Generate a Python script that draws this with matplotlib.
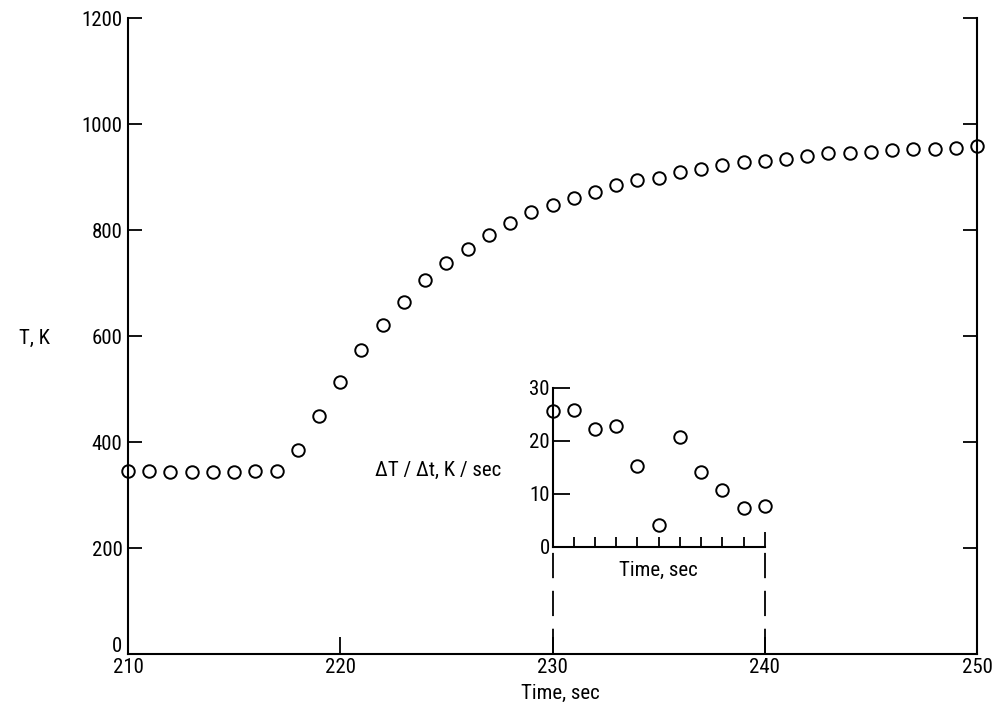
import matplotlib
matplotlib.use("Agg")
import matplotlib.pyplot as plt
from matplotlib import font_manager as fm
from matplotlib.ticker import FixedLocator, NullFormatter
from matplotlib.transforms import ScaledTranslation

# ---------------- data ----------------
time_s = list(range(210, 251))
temp_K = [345, 345, 343, 344, 344, 344, 345, 345, 384, 450,
          514, 573, 621, 664, 705, 737, 764, 790, 814, 834,
          848, 861, 872, 884, 895, 898, 909, 916, 923, 928,
          931, 934, 940, 946, 946, 948, 951, 953, 953, 954, 958]

inset_time = list(range(230, 241))
rate_Ks = [25.6, 25.8, 22.3, 22.8, 15.2, 4.2, 20.8, 14.1, 10.8, 7.3, 7.7]

main_xticks = [210, 220, 230, 240, 250]
main_yticks = [0, 200, 400, 600, 800, 1000, 1200]
inset_yticks = [0, 10, 20, 30]
inset_minor_xticks = list(range(231, 240))
inset_major_xticks = [240]
inset_range = [230, 240]
inset_base_T = 202

# ---------------- fonts ----------------
names = {f.name for f in fm.fontManager.ttflist}
preferred = ["Liberation Sans Narrow", "Roboto Condensed", "Open Sans Condensed",
             "Noto Sans Condensed", "DejaVu Sans Condensed"]
chosen = [n for n in preferred if n in names]
if chosen:
    plt.rcParams["font.family"] = [chosen[0], "DejaVu Sans"]
else:
    plt.rcParams["font.family"] = ["DejaVu Sans"]
    plt.rcParams["font.stretch"] = "condensed"

FS = 15
W, H = 1002, 719
fig = plt.figure(figsize=(W / 100, H / 100), dpi=100)
L, R, T, B = 128, 977, 18, 654
ax = fig.add_axes([L / W, 1 - B / H, (R - L) / W, (B - T) / H])

ax.plot(time_s, temp_K, linestyle="none", marker="o", mfc="none",
        mec="black", ms=9, mew=1.4, clip_on=False)
ax.set_xlim(210, 250)
ax.set_ylim(0, 1200)
ax.set_xticks(main_xticks)
ax.set_yticks(main_yticks)
ax.spines["top"].set_visible(False)
for s in ["left", "right", "bottom"]:
    ax.spines[s].set_linewidth(1.5)
ax.tick_params(axis="y", direction="in", length=10, width=1.3,
               left=True, right=True, labelsize=FS, pad=4)
ax.tick_params(axis="x", direction="in", length=12, width=1.3,
               top=False, labelsize=FS, pad=3)
# lift the "0" label a little so it clears the "210" label
zero_lbl = ax.get_yticklabels()[0]
zero_lbl.set_transform(zero_lbl.get_transform() +
                       ScaledTranslation(0, 9 / 100, fig.dpi_scale_trans))

ax.set_ylabel("T, K", rotation=0, fontsize=FS, ha="right", va="center")
ax.yaxis.set_label_coords((50 - L) / (R - L), (B - 338) / (B - T))
ax.set_xlabel("Time, sec", fontsize=FS, va="center")
ax.xaxis.set_label_coords((560 - L) / (R - L), (B - 693) / (B - T))

# dashed connector lines
for xv in inset_range:
    ax.plot([xv, xv], [0, inset_base_T], color="black", lw=1.3,
            linestyle=(0, (14, 7)))

# ---------------- inset ----------------
axi = ax.inset_axes([inset_range[0], inset_base_T,
                     inset_range[1] - inset_range[0], 300],
                    transform=ax.transData)
axi.patch.set_alpha(0)
axi.plot(inset_time, rate_Ks, linestyle="none", marker="o", mfc="none",
         mec="black", ms=9, mew=1.4, clip_on=False)
axi.set_xlim(inset_range[0], inset_range[1])
axi.set_ylim(0, 30)
axi.spines["top"].set_visible(False)
axi.spines["right"].set_visible(False)
axi.spines["left"].set_linewidth(1.5)
axi.spines["bottom"].set_linewidth(1.5)
axi.set_yticks(inset_yticks)
axi.xaxis.set_major_locator(FixedLocator(inset_major_xticks))
axi.xaxis.set_minor_locator(FixedLocator(inset_minor_xticks))
axi.xaxis.set_major_formatter(NullFormatter())
axi.tick_params(axis="y", direction="in", length=12, width=1.3,
                labelsize=FS, pad=2)
axi.tick_params(axis="x", which="major", direction="in", length=11, width=1.3)
axi.tick_params(axis="x", which="minor", direction="in", length=7, width=1.3)
axi.set_xlabel("Time, sec", fontsize=FS, va="center")
axi.xaxis.set_label_coords(0.5, -0.15)
axi.set_ylabel("ΔT / Δt, K / sec", rotation=0, fontsize=FS, ha="right",
               va="center")
axi.yaxis.set_label_coords((502 - 553) / 213, (546.7 - 470) / 159)

fig.savefig("out.png", dpi=100)
